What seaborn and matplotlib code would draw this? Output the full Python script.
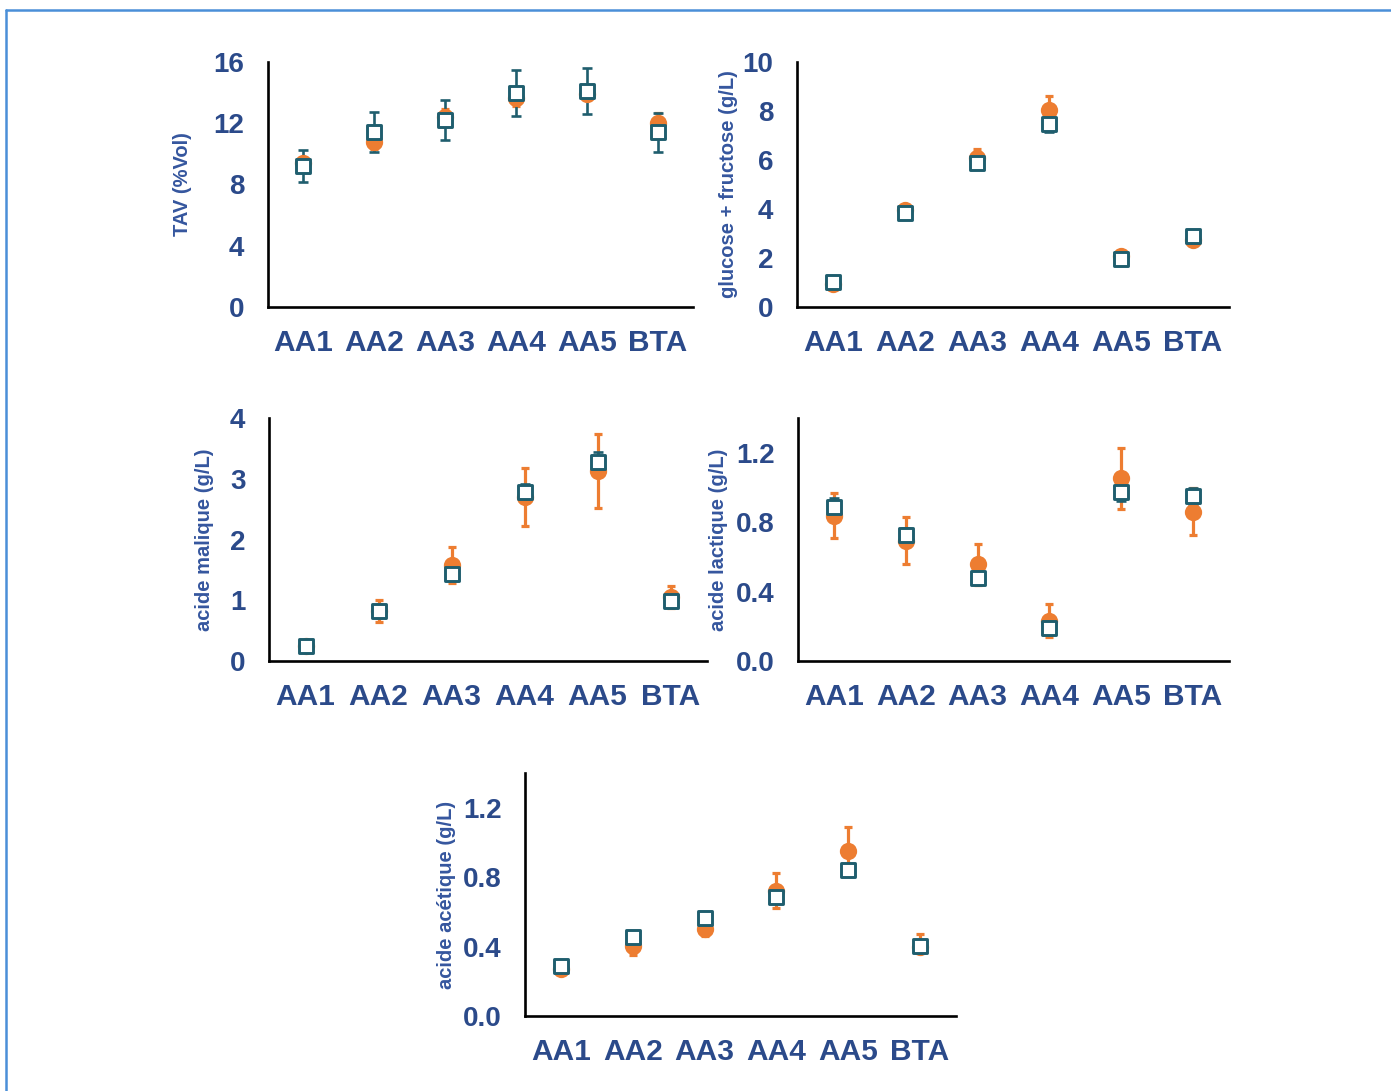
import numpy as np
import pandas as pd
import matplotlib
matplotlib.use("Agg")
import matplotlib.pyplot as plt
import seaborn as sns
from matplotlib.lines import Line2D

categories = ["AA1", "AA2", "AA3", "AA4", "AA5", "BTA"]

# TAV (%Vol)
tav_orange = [9.4, 10.8, 12.4, 13.65, 13.9, 12.0]
tav_orange_err = [0.4, 0.5, 0.5, 0.5, 0.4, 0.7]
tav_teal = [9.2, 11.45, 12.2, 14.0, 14.1, 11.4]
tav_teal_err = [1.05, 1.3, 1.3, 1.5, 1.5, 1.25]

# glucose + fructose (g/L)
sugar_orange = [0.95, 3.95, 6.1, 8.05, 2.07, 2.72]
sugar_orange_err = [0.05, 0.1, 0.35, 0.55, 0.1, 0.1]
sugar_teal = [1.02, 3.85, 5.88, 7.48, 1.95, 2.88]
sugar_teal_err = [0.05, 0.1, 0.15, 0.34, 0.1, 0.1]

# acide malique (g/L)
malic_orange = [0.245, 0.82, 1.58, 2.7, 3.13, 1.06]
malic_orange_err = [0.04, 0.18, 0.29, 0.47, 0.61, 0.18]
malic_teal = [0.245, 0.82, 1.43, 2.78, 3.28, 0.98]
malic_teal_err = [0.03, 0.06, 0.08, 0.13, 0.16, 0.06]

# acide lactique (g/L)
lactic_orange = [0.837, 0.694, 0.556, 0.231, 1.053, 0.86]
lactic_orange_err = [0.13, 0.135, 0.12, 0.095, 0.175, 0.135]
lactic_teal = [0.889, 0.726, 0.478, 0.191, 0.971, 0.948]
lactic_teal_err = [0.05, 0.04, 0.03, 0.03, 0.05, 0.05]

# acide acetique (g/L), orange error bars read as lower / upper
acetic_orange = [0.273, 0.403, 0.503, 0.722, 0.948, 0.397]
acetic_orange_err_low = [0.02, 0.05, 0.04, 0.1, 0.1, 0.03]
acetic_orange_err_high = [0.02, 0.03, 0.03, 0.1, 0.14, 0.075]
acetic_teal = [0.289, 0.455, 0.566, 0.684, 0.843, 0.403]
acetic_teal_err = [0.02, 0.02, 0.02, 0.03, 0.03, 0.03]

ORANGE = "#ED7D31"
TEAL = "#1F5E6E"
NAVY = "#2B4A8A"
LABEL_BLUE = "#35569E"

W, H = 1391, 1091

sns.set_style("white")
plt.rcParams["font.family"] = ["Liberation Sans", "DejaVu Sans"]
plt.rcParams["font.weight"] = "bold"

fig = plt.figure(figsize=(W / 100, H / 100), dpi=100)


def draw_panel(box, orange, orange_err, teal, teal_err, ymax, yticks, fmt, ylabel, label_x):
    left, top, right, bottom = box
    ax = fig.add_axes([left / W, 1 - bottom / H, (right - left) / W, (bottom - top) / H])
    df = pd.DataFrame({"cat": categories, "orange": orange, "teal": teal})

    ax.errorbar(df["cat"], df["orange"], yerr=orange_err, fmt="none", ecolor=ORANGE,
                elinewidth=2.3, capsize=3.2, capthick=2.3, zorder=2)
    ax.errorbar(df["cat"], df["teal"], yerr=teal_err, fmt="none", ecolor=TEAL,
                elinewidth=1.9, capsize=3.8, capthick=1.9, zorder=2)
    sns.scatterplot(data=df, x="cat", y="orange", ax=ax, marker="o", s=155,
                    color=ORANGE, edgecolor=ORANGE, linewidth=0, zorder=3)
    sns.scatterplot(data=df, x="cat", y="teal", ax=ax, marker="s", s=98,
                    color="white", edgecolor=TEAL, linewidth=2.1, zorder=4)

    ax.set_xlim(-0.5, len(categories) - 0.5)
    ax.set_ylim(0, ymax)
    ax.set_yticks(yticks)
    ax.set_yticklabels([fmt.format(t) for t in yticks])
    ax.set_xlabel("")
    ax.set_ylabel(ylabel, fontsize=14.5, fontweight="bold", color=LABEL_BLUE)
    ax.yaxis.set_label_coords((label_x - left) / (right - left), 0.5)
    ax.yaxis.label.set_va("center")

    for s in ["top", "right"]:
        ax.spines[s].set_visible(False)
    for s in ["left", "bottom"]:
        ax.spines[s].set_color("black")
        ax.spines[s].set_linewidth(1.9)
    ax.tick_params(axis="y", length=6, width=1.9, color="black", direction="out",
                   pad=11, labelsize=20, labelcolor=NAVY)
    ax.tick_params(axis="x", length=0, pad=16, labelsize=21.5, labelcolor=NAVY)
    for lab in ax.get_xticklabels() + ax.get_yticklabels():
        lab.set_fontweight("bold")
    ax.set_facecolor("none")
    return ax


draw_panel((268, 62, 693, 307), tav_orange, tav_orange_err, tav_teal, tav_teal_err,
           16, [0, 4, 8, 12, 16], "{:.0f}", "TAV (%Vol)", 183)
draw_panel((797, 62, 1229, 307), sugar_orange, sugar_orange_err, sugar_teal, sugar_teal_err,
           10, [0, 2, 4, 6, 8, 10], "{:.0f}", "glucose + fructose (g/L)", 728)
draw_panel((269, 418, 707, 661), malic_orange, malic_orange_err, malic_teal, malic_teal_err,
           4, [0, 1, 2, 3, 4], "{:.0f}", "acide malique (g/L)", 204)
draw_panel((798, 418, 1229, 661), lactic_orange, lactic_orange_err, lactic_teal, lactic_teal_err,
           1.4, [0.0, 0.4, 0.8, 1.2], "{:.1f}", "acide lactique (g/L)", 719)
draw_panel((525, 773, 956, 1016), acetic_orange,
           [acetic_orange_err_low, acetic_orange_err_high], acetic_teal, acetic_teal_err,
           1.4, [0.0, 0.4, 0.8, 1.2], "{:.1f}", "acide acétique (g/L)", 446)

# thin blue page frame (top and left edges)
fig.add_artist(Line2D([6 / W, 6 / W], [0, 1 - 10 / H], transform=fig.transFigure,
                      color="#4A8FD8", lw=1.8))
fig.add_artist(Line2D([6 / W, 1], [1 - 10 / H, 1 - 10 / H], transform=fig.transFigure,
                      color="#4A8FD8", lw=1.8))

fig.savefig("out.png", dpi=100, facecolor="white")
